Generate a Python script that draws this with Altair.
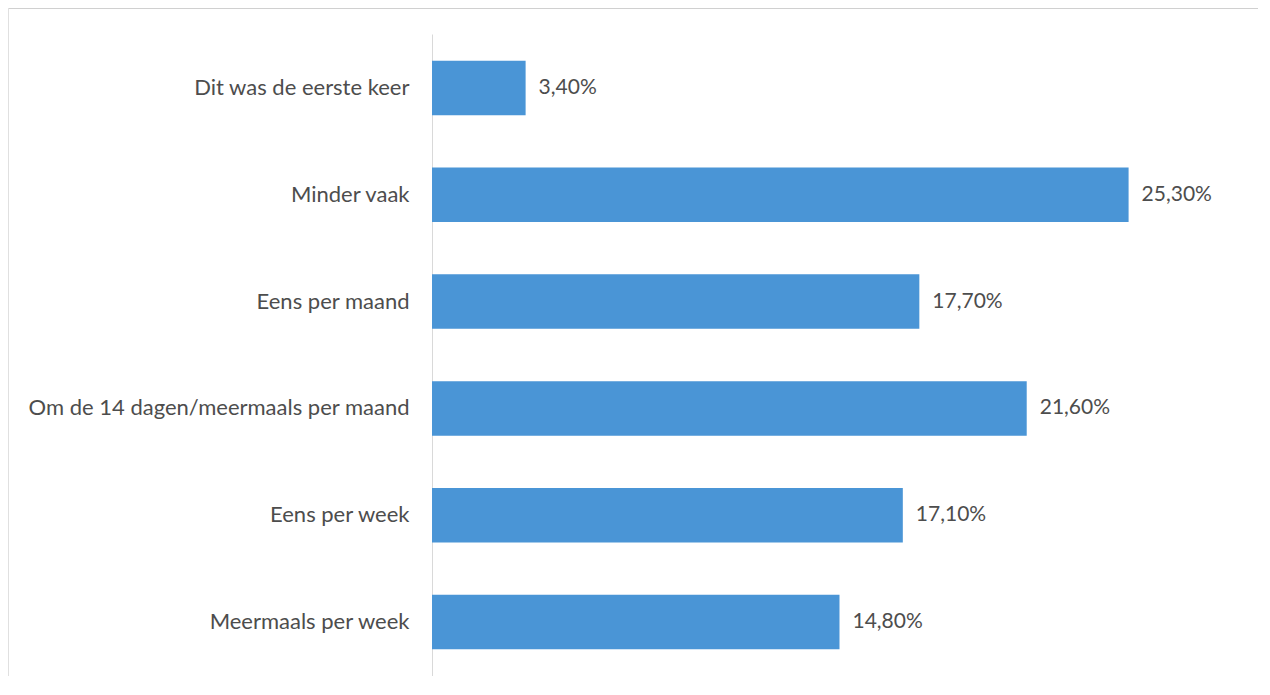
import altair as alt
import pandas as pd

categories = [
    "Dit was de eerste keer",
    "Minder vaak",
    "Eens per maand",
    "Om de 14 dagen/meermaals per maand",
    "Eens per week",
    "Meermaals per week",
]
values = [3.4, 25.3, 17.7, 21.6, 17.1, 14.8]

df = pd.DataFrame({"cat": categories, "val": values})
df["label"] = [f"{v:.2f}".replace(".", ",") + "%" for v in values]

FONT = "Lato"
TEXT = "#4d4d4d"

y = alt.Y(
    "cat:N",
    sort=categories,
    scale=alt.Scale(paddingInner=0.49, paddingOuter=0.25),
    axis=alt.Axis(
        title=None,
        ticks=False,
        domainColor="#d9d9d9",
        domainWidth=1,
        labelFont=FONT,
        labelFontSize=22,
        labelColor=TEXT,
        labelPadding=23,
        labelLimit=500,
    ),
)
x = alt.X("val:Q", scale=alt.Scale(domain=[0, 30]), axis=None)

bars = alt.Chart(df).mark_bar(color="#4a95d6").encode(x=x, y=y)
text = alt.Chart(df).mark_text(
    align="left", baseline="middle", dx=13, font=FONT, fontSize=21, color=TEXT
).encode(x=x, y=y, text="label:N")

border_top = alt.Chart(df).mark_rule(color="#d0d0d0", strokeWidth=2).encode(
    x=alt.value(-424), x2=alt.value(830), y=alt.value(-26)
)
border_left = alt.Chart(df).mark_rule(color="#e0e0e0", strokeWidth=1).encode(
    x=alt.value(-423.5), y=alt.value(-26), y2=alt.value(660)
)

chart = (
    alt.layer(bars, text, border_top, border_left)
    .properties(
        width=826,
        height=642,
        autosize=alt.AutoSizeParams(type="none"),
        padding={"left": 424, "top": 26, "right": 0, "bottom": 0},
    )
    .configure(background="white", view=alt.ViewConfig(strokeWidth=0))
)

chart.save("out.html", embed_options={"renderer": "svg", "actions": False})
